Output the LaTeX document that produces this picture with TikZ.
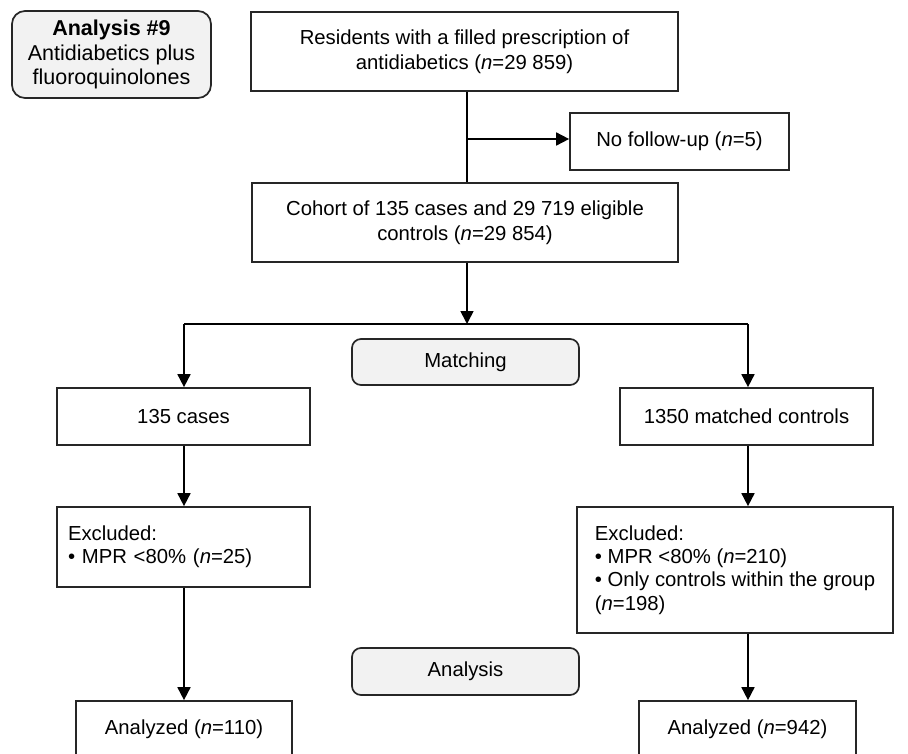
\documentclass[tikz,border=0pt]{standalone}
\usepackage{fontspec}
\setmainfont{Liberation Sans}
\usetikzlibrary{arrows.meta}
\definecolor{edge}{HTML}{262626}
\definecolor{lightfill}{HTML}{F2F2F2}
\tikzset{
  box/.style={draw=edge, line width=1.7pt, fill=white, inner sep=0pt, align=center,
    font=\fontsize{20.3}{24.5}\selectfont},
  rbox/.style={box, fill=lightfill, rounded corners=9pt},
  lbox/.style={draw=edge, line width=1.7pt, fill=white, inner sep=0pt,
    font=\fontsize{20.3}{23.3}\selectfont},
  arr/.style={draw=black, line width=1.7pt, -{Triangle[length=13pt,width=13pt]}},
  ln/.style={draw=black, line width=1.7pt},
}
\begin{document}
\begin{tikzpicture}[x=1pt,y=-1pt]
\clip (0,0) rectangle (908,753);
\fill[white] (0,0) rectangle (908,753);

\node[rbox, rounded corners=13pt, minimum width=199pt, minimum height=87pt,
  font=\fontsize{21.5}{24.5}\selectfont] (a9) at (111.5,54.5)
  {\textbf{Analysis \#9}\\Antidiabetics plus\\fluoroquinolones};

\node[box, minimum width=427pt, minimum height=79pt] (top) at (464.5,51.5)
  {Residents with a filled prescription of\\antidiabetics (\textit{n}=29 859)};

\node[box, minimum width=219pt, minimum height=57pt] (nofu) at (679.5,141.5)
  {No follow-up (\textit{n}=5)};

\node[box, minimum width=426pt, minimum height=79pt] (cohort) at (465,222.5)
  {Cohort of 135 cases and 29 719 eligible\\controls (\textit{n}=29 854)};

\node[rbox, minimum width=227pt, minimum height=46pt] (matching) at (465.5,362)
  {Matching};

\node[box, minimum width=253pt, minimum height=57pt] (cases) at (183.5,416.5)
  {135 cases};
\node[box, minimum width=253pt, minimum height=57pt] (controls) at (746.5,416.5)
  {1350 matched controls};

\node[lbox, minimum width=253pt, minimum height=80pt, text width=231pt] (exclL) at (183.5,547)
  {Excluded:\\• MPR <80\% (\textit{n}=25)};
\node[lbox, align=left, minimum width=316pt, minimum height=126pt] (exclR) at (735,570)
  {Excluded:\\• MPR <80\% (\textit{n}=210)\\• Only controls within the group\\(\textit{n}=198)};

\node[rbox, minimum width=227pt, minimum height=47pt] (analysis) at (465.5,671.5)
  {Analysis};

\node[box, minimum width=216pt, minimum height=56pt] (anL) at (184,729)
  {Analyzed (\textit{n}=110)};
\node[box, minimum width=217pt, minimum height=56pt] (anR) at (747.5,729)
  {Analyzed (\textit{n}=942)};

\coordinate (br) at (467,324);

\draw[ln] (top.south -| br) -- (cohort.north -| br);
\draw[arr] (br |- 0,139) -- (nofu.west |- 0,139);
\draw[arr] (cohort.south -| br) -- (br);
\draw[ln] (184,324) -- (748,324);
\draw[arr] (184,324) -- (cases.north -| 184,0);
\draw[arr] (748,324) -- (controls.north -| 748,0);
\draw[arr] (cases.south -| 184,0) -- (exclL.north -| 184,0);
\draw[arr] (controls.south -| 748,0) -- (exclR.north -| 748,0);
\draw[arr] (exclL.south -| 184,0) -- (anL.north -| 184,0);
\draw[arr] (exclR.south -| 748,0) -- (anR.north -| 748,0);
\end{tikzpicture}
\end{document}
